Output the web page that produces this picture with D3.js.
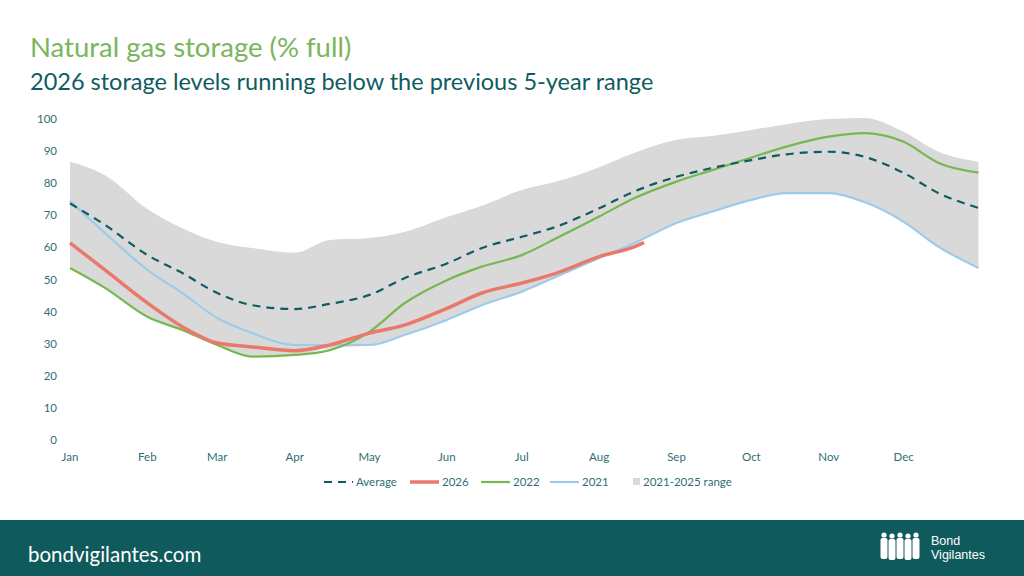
<!DOCTYPE html>
<html lang="en">
<head>
<meta charset="UTF-8">
<title>Natural gas storage</title>
<script src="https://d3js.org/d3.v7.min.js"></script>
<style>
  body { margin: 0; background: #fff; font-family: 'Lato', sans-serif; }
  svg text { font-family: 'Lato', sans-serif; }
</style>
</head>
<body>
<svg id="chart" width="1024" height="576"></svg>
<script>
// day of year for each sample
const days = [0, 14, 31, 45, 59, 73, 90, 104, 120, 134, 151, 165, 181, 195, 212, 226, 243, 257, 273, 287, 304, 318, 334, 348, 364];
const rangeHigh = [86.7, 82.5, 72, 66, 61.7, 59.8, 58.3, 62.3, 62.9, 64.8, 69.5, 73, 77.9, 80.5, 85, 89.4, 93.5, 94.7, 96.6, 98.4, 100, 100.3, 96, 89.8, 86.7];
const rangeLow = [54, 47.4, 38.4, 34.3, 29.6, 26, 26.5, 28.6, 29.6, 32.7, 37.4, 42, 46.2, 50.9, 56.7, 61.3, 67.6, 71.1, 74.8, 76.9, 76.9, 74.2, 68, 60.2, 53.6];
const average = [73.7, 67, 57.6, 52, 45.8, 42, 40.8, 42.4, 45.2, 50.4, 55, 59.8, 63.3, 66.5, 72.2, 77.4, 82, 84.7, 87.2, 89, 89.8, 88.3, 83.2, 76.9, 72.3];
const y2022 = [53.6, 47.4, 38.4, 34.3, 29.6, 26, 26.5, 28, 33.7, 42.6, 49.8, 54, 57.6, 62.9, 69.6, 75.3, 80.5, 84, 88, 91.4, 94.5, 95.6, 92.9, 86.3, 83.3];
const y2021 = [74.5, 64.5, 53, 45.8, 38, 33.3, 29.6, 29.6, 29.6, 32.7, 37.4, 42, 46.2, 50.9, 56.7, 61.3, 67.6, 71.1, 74.8, 76.9, 76.9, 74.2, 68, 60.2, 53.6];
const days2026 = [0, 14, 31, 45, 59, 73, 90, 104, 120, 134, 151, 165, 181, 195, 212, 226, 230];
const y2026 = [61.4, 53, 42.7, 35.3, 30.2, 29, 27.8, 29.6, 33.3, 35.8, 41, 45.8, 48.9, 52, 57.1, 60.2, 61.5];
const months = ['Jan','Feb','Mar','Apr','May','Jun','Jul','Aug','Sep','Oct','Nov','Dec'];
const monthStarts = [0, 31, 59, 90, 120, 151, 181, 212, 243, 273, 304, 334];
const yTicks = [0, 10, 20, 30, 40, 50, 60, 70, 80, 90, 100];

const teal = '#0e5c61', axisCol = '#2f6f74';
const svg = d3.select('#chart');
const x = d3.scaleLinear().domain([0, 365]).range([70, 981]);
const y = d3.scaleLinear().domain([0, 100]).range([440, 119]);

svg.append('text').attr('x', 30).attr('y', 57).attr('fill', '#7ab55c').style('font-size', '27.5px').text('Natural gas storage (% full)');
svg.append('text').attr('x', 30).attr('y', 90).attr('fill', teal).style('font-size', '23.5px').text('2026 storage levels running below the previous 5-year range');

// range band
const area = d3.area().x((d, i) => x(days[i])).y0((d, i) => y(rangeLow[i])).y1(d => y(d)).curve(d3.curveMonotoneX);
svg.append('path').datum(rangeHigh).attr('d', area).attr('fill', '#d9d9d9');

const line = d3.line().x((d, i) => x(days[i])).y(d => y(d)).curve(d3.curveMonotoneX);
svg.append('path').datum(y2021).attr('d', line).attr('fill', 'none').attr('stroke', '#9dcbea').attr('stroke-width', 2.2);
svg.append('path').datum(y2022).attr('d', line).attr('fill', 'none').attr('stroke', '#76b84f').attr('stroke-width', 2.2);
const line26 = d3.line().x((d, i) => x(days2026[i])).y(d => y(d)).curve(d3.curveMonotoneX);
svg.append('path').datum(y2026).attr('d', line26).attr('fill', 'none').attr('stroke', '#e8796b').attr('stroke-width', 3.5);
svg.append('path').datum(average).attr('d', line).attr('fill', 'none').attr('stroke', teal).attr('stroke-width', 2.2).attr('stroke-dasharray', '8,6');

// axes labels
svg.append('g').selectAll('text').data(yTicks).join('text')
  .attr('x', 57).attr('y', d => y(d) + 4).attr('text-anchor', 'end')
  .attr('fill', axisCol).style('font-size', '11.5px').text(d => d);
svg.append('g').selectAll('text').data(months).join('text')
  .attr('x', (d, i) => x(monthStarts[i])).attr('y', 461).attr('text-anchor', 'middle')
  .attr('fill', axisCol).style('font-size', '11.5px').text(d => d);

// legend
const legend = [
  { label: 'Average', x: 324, color: teal, w: 2.2, dash: '8,6' },
  { label: '2026', x: 410, color: '#e8796b', w: 3.5 },
  { label: '2022', x: 481, color: '#76b84f', w: 2.2 },
  { label: '2021', x: 550, color: '#9dcbea', w: 2.2 }
];
const lg = svg.append('g');
legend.forEach(l => {
  lg.append('line').attr('x1', l.x).attr('x2', l.x + 29).attr('y1', 482).attr('y2', 482)
    .attr('stroke', l.color).attr('stroke-width', l.w).attr('stroke-dasharray', l.dash || null);
  lg.append('text').attr('x', l.x + 32).attr('y', 486).attr('fill', axisCol).style('font-size', '11.5px').text(l.label);
});
lg.append('rect').attr('x', 633).attr('y', 478).attr('width', 7).attr('height', 7).attr('fill', '#d9d9d9');
lg.append('text').attr('x', 643).attr('y', 486).attr('fill', axisCol).style('font-size', '11.5px').text('2021-2025 range');

// footer
svg.append('rect').attr('x', 0).attr('y', 520).attr('width', 1024).attr('height', 56).attr('fill', '#0f5a5c');
svg.append('text').attr('x', 28).attr('y', 562).attr('fill', '#fff').style('font-size', '20.5px').text('bondvigilantes.com');
const logo = svg.append('g').attr('fill', '#fff');
[884, 892, 900, 908, 916].forEach((cx, i) => {
  logo.append('circle').attr('cx', cx).attr('cy', 535 + (i % 2)).attr('r', 2.6);
  logo.append('rect').attr('x', cx - 3.5).attr('y', 538 + (i % 2)).attr('width', 7).attr('height', 21).attr('rx', 2);
});
svg.append('text').attr('x', 931).attr('y', 545).attr('fill', '#fff').style('font-size', '12.5px').style('font-family', 'Liberation Sans, sans-serif').text('Bond');
svg.append('text').attr('x', 931).attr('y', 559).attr('fill', '#fff').style('font-size', '12.5px').style('font-family', 'Liberation Sans, sans-serif').text('Vigilantes');
</script>
</body>
</html>
